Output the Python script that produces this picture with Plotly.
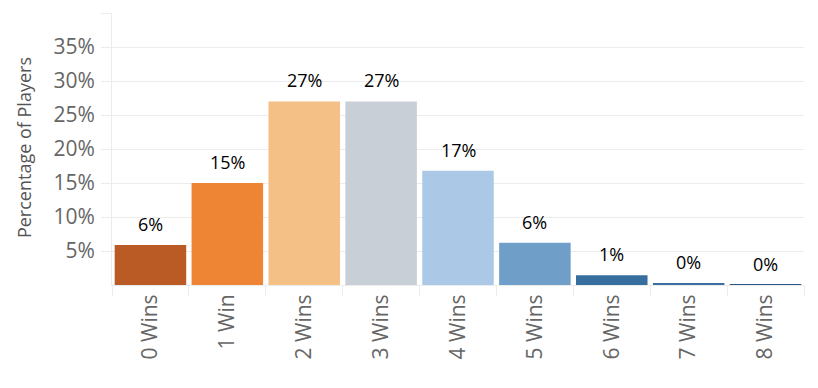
import plotly.graph_objects as go

categories = ["0 Wins", "1 Win", "2 Wins", "3 Wins", "4 Wins", "5 Wins", "6 Wins", "7 Wins", "8 Wins"]
percentages = [5.9, 15.0, 27.0, 27.0, 16.8, 6.2, 1.45, 0.3, 0.03]
bar_colors = ["#BA5A24", "#EE8534", "#F4C086", "#C8CFD7", "#ABC9E6",
              "#6F9FC9", "#366E9E", "#3A6FA4", "#2A5783"]
y_tick_values = [5, 10, 15, 20, 25, 30, 35, 40]
y_tick_labels = ["5%", "10%", "15%", "20%", "25%", "30%", "35%", ""]

GRID = "#ECECEC"
FONT = "'Open Sans', Lato, sans-serif"

fig = go.Figure(
    go.Bar(
        x=categories,
        y=percentages,
        marker=dict(color=bar_colors, line=dict(width=0)),
        hoverinfo="x+y",
    )
)

annotations = [
    dict(
        x=c, y=v, xref="x", yref="y",
        text=f"{v:.0f}%",
        showarrow=False,
        xanchor="center", yanchor="bottom",
        yshift=7,
        font=dict(size=18, color="#000000", family=FONT),
    )
    for c, v in zip(categories, percentages)
]
annotations.append(
    dict(
        text="Percentage of Players",
        textangle=-90,
        xref="paper", yref="paper",
        x=-0.128, y=0.505,
        xanchor="center", yanchor="middle",
        showarrow=False,
        font=dict(size=18, color="#555555", family=FONT),
    )
)

# page body adds an 8px offset; figure sized to fit the 818x388 window
fig.update_layout(
    width=810,
    height=380,
    margin=dict(l=104, r=14, t=5, b=103, autoexpand=False),
    paper_bgcolor="white",
    plot_bgcolor="white",
    bargap=0.07,
    showlegend=False,
    font=dict(family=FONT, color="#666666"),
    annotations=annotations,
)

fig.update_yaxes(
    range=[0, 40],
    tickmode="array",
    tickvals=y_tick_values,
    ticktext=y_tick_labels,
    showgrid=True,
    gridcolor=GRID,
    gridwidth=1,
    ticks="outside",
    ticklen=10,
    tickcolor=GRID,
    showline=True,
    linecolor=GRID,
    linewidth=1,
    zeroline=False,
    automargin=False,
    tickfont=dict(size=21, color="#666666", family=FONT),
    ticklabelstandoff=2,
)

fig.update_xaxes(
    type="category",
    tickangle=-90,
    tickson="boundaries",
    ticks="outside",
    ticklen=10,
    tickcolor=GRID,
    showline=True,
    linecolor=GRID,
    linewidth=1,
    showgrid=False,
    automargin=False,
    tickfont=dict(size=21, color="#666666", family=FONT),
)

fig.write_html("out.html")
